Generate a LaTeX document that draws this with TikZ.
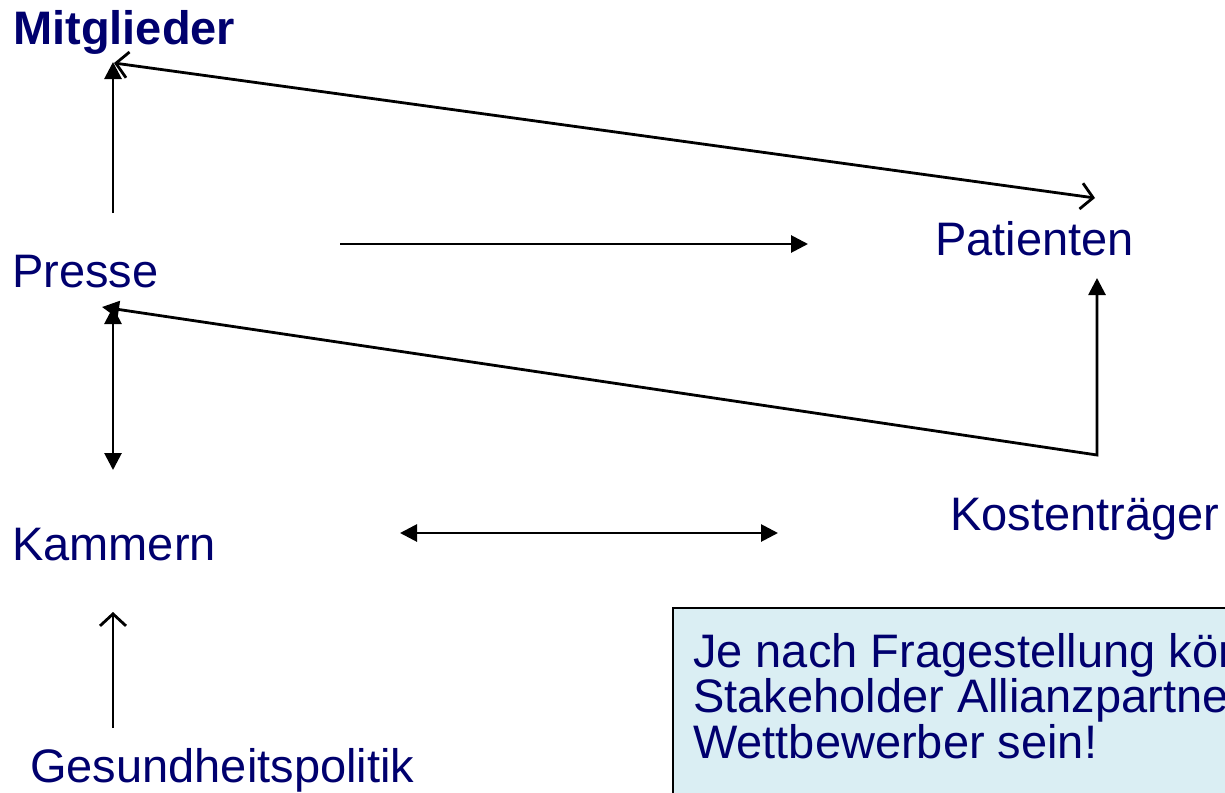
\documentclass[tikz,border=0pt]{standalone}
\usepackage{fontspec}
\setmainfont{Liberation Sans}
\usetikzlibrary{arrows.meta}
\definecolor{navy}{RGB}{0,0,110}
\definecolor{boxfill}{RGB}{218,238,243}
\tikzset{
  lbl/.style={anchor=base west, inner sep=0pt, text=navy, font=\fontsize{47}{45.5}\selectfont},
  conn/.style={line width=2.8pt, draw=black},
  ftip/.style={-{Triangle[length=17pt,width=17pt]}},
  fboth/.style={{Triangle[length=17pt,width=17pt]}-{Triangle[length=17pt,width=17pt]}},
  otip/.style={-{Straight Barb[length=12pt,width=26pt]}},
  oboth/.style={{Straight Barb[length=12pt,width=26pt]}-{Straight Barb[length=12pt,width=26pt]}},
  notebox/.style={draw=black, line width=1.5pt, fill=boxfill, anchor=north west, minimum width=620pt, minimum height=220pt, inner sep=0pt}
}
\begin{document}
\begin{tikzpicture}[x=1pt,y=-1pt]
\useasboundingbox (0,0) rectangle (1225,792);
\begin{scope}
\clip (0,0) rectangle (1225,792);
% labels
\node[lbl, font=\fontsize{47}{45}\selectfont\bfseries] (mitglieder) at (13,45) {Mitglieder};
\node[lbl] (presse) at (12,287) {Presse};
\node[lbl] (patienten) at (935,255) {Patienten};
\node[lbl] (kammern) at (12,560) {Kammern};
\node[lbl] (kosten) at (950,530) {Kostenträger};
\node[lbl] (gesund) at (30,782) {Gesundheitspolitik};
% note box
\node[notebox] (note) at (672,607) {};
\node[lbl, align=left] (notetext) at (693,758) {Je nach Fragestellung können\\Stakeholder Allianzpartner oder\\Wettbewerber sein!};
% coordinates
\coordinate (mA) at (113,62);
\coordinate (pA) at (113,213);
\coordinate (mB) at (114,63);
\coordinate (patA) at (1095,198);
\coordinate (pR1) at (340,244);
\coordinate (patL) at (808,244);
\coordinate (pB) at (102,307);
\coordinate (kB) at (1097,455);
\coordinate (patB) at (1097,278);
\coordinate (pC) at (113,307);
\coordinate (kA) at (113,470);
\coordinate (kR1) at (400,533);
\coordinate (kostL) at (778,533);
\coordinate (kD) at (113,612);
\coordinate (gU) at (113,728);
% connectors
\draw[conn, ftip] (pA) -- (mA);
\draw[conn, oboth] (mB) -- (patA);
\draw[conn, ftip] (pR1) -- (patL);
\draw[conn, fboth] (pB) -- (kB) -- (patB);
\draw[conn, fboth] (pC) -- (kA);
\draw[conn, fboth] (kR1) -- (kostL);
\draw[conn, otip] (gU) -- (kD);
\end{scope}
\end{tikzpicture}
\end{document}
